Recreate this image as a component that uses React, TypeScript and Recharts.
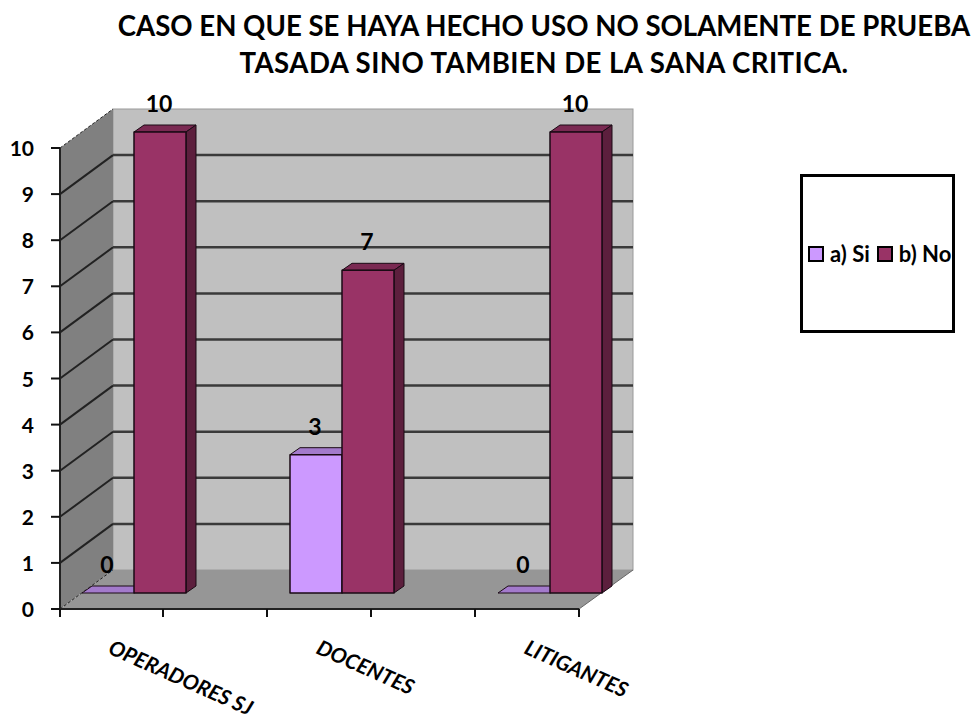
import { BarChart, Bar, XAxis, YAxis, CartesianGrid, Legend, LabelList } from 'recharts';

const categories = ['OPERADORES SJ', 'DOCENTES', 'LITIGANTES'];
const siValues = [0, 3, 0];
const noValues = [10, 7, 10];
const valueTicks = [0, 1, 2, 3, 4, 5, 6, 7, 8, 9, 10];
const titleLines = [
  'CASO EN QUE SE HAYA HECHO USO NO SOLAMENTE DE PRUEBA',
  'TASADA SINO TAMBIEN DE LA SANA CRITICA.',
];

const data = categories.map((name, i) => ({ name, si: siValues[i], no: noValues[i] }));

const FONT = 'Lato, sans-serif';
const SI_FILL = '#CC99FF';
const NO_FILL = '#993366';
const SHADES: Record<string, { top: string; side: string }> = {
  [SI_FILL]: { top: '#A37ACC', side: '#7A5C99' },
  [NO_FILL]: { top: '#7A2952', side: '#5C1F3D' },
};

// bars stand mid-depth: the front edge of the floor is 16px below them, the back wall 23px above
const FRONT_DY = 16;
const BACK_DY = -23;
const LEFT_X = 60;
const BACK_X = 113;
const RIGHT_X = 579;
const BACK_RIGHT_X = 633;
const TOP_Y = 132;
const ZERO_Y = 593;
const DEPTH_X = 10;
const DEPTH_Y = -7;
const AXIS_TICKS_X = [60, 163, 267, 371, 475, 579];

// the grid sits below plain chart children, so the walls get their own svg behind the chart
function Walls() {
  const backTop = TOP_Y + BACK_DY;
  const backBottom = ZERO_Y + BACK_DY;
  const frontTop = TOP_Y + FRONT_DY;
  const frontBottom = ZERO_Y + FRONT_DY;
  return (
    <svg width={974} height={719} style={{ position: 'absolute', left: 0, top: 0 }}>
      <rect x={BACK_X} y={backTop} width={BACK_RIGHT_X - BACK_X} height={backBottom - backTop} fill="#C0C0C0" stroke="#9a9a9a" strokeWidth={1} />
      <polygon
        points={`${LEFT_X},${frontTop} ${BACK_X},${backTop} ${BACK_X},${backBottom} ${LEFT_X},${frontBottom}`}
        fill="#808080"
      />
      <polygon
        points={`${LEFT_X},${frontBottom} ${BACK_X},${backBottom} ${BACK_RIGHT_X},${backBottom} ${RIGHT_X},${frontBottom}`}
        fill="#969696"
      />
      <line x1={LEFT_X} y1={frontTop} x2={LEFT_X} y2={frontBottom} stroke="#222" strokeWidth={2} />
      <line x1={LEFT_X} y1={frontBottom} x2={RIGHT_X} y2={frontBottom} stroke="#222" strokeWidth={2} />
      <line x1={RIGHT_X} y1={frontBottom} x2={BACK_RIGHT_X} y2={backBottom} stroke="#666" strokeWidth={1} />
      {AXIS_TICKS_X.map((x) => (
        <line key={x} x1={x} y1={frontBottom} x2={x} y2={frontBottom + 8} stroke="#111" strokeWidth={2} />
      ))}
    </svg>
  );
}

function GridLine(props: any) {
  const { y1 } = props;
  const isEdge = Math.abs(y1 - TOP_Y) < 1 || Math.abs(y1 - ZERO_Y) < 1;
  const front = y1 + FRONT_DY;
  const back = y1 + BACK_DY;
  return (
    <g key={props.key}>
      <line
        x1={LEFT_X}
        y1={front}
        x2={BACK_X}
        y2={back}
        stroke="#222"
        strokeWidth={isEdge ? 1 : 2}
        strokeDasharray={isEdge ? '3 2' : undefined}
      />
      {!isEdge && <line x1={BACK_X} y1={back} x2={BACK_RIGHT_X} y2={back} stroke="#3a3a3a" strokeWidth={2.5} />}
    </g>
  );
}

function Bar3D(props: any) {
  const { x, y, width, height, fill } = props;
  const shade = SHADES[fill];
  const r = x + width;
  const b = y + height;
  return (
    <g stroke="#1a0a14" strokeLinejoin="round">
      <polygon
        points={`${x},${y} ${x + DEPTH_X},${y + DEPTH_Y} ${r + DEPTH_X},${y + DEPTH_Y} ${r},${y}`}
        fill={shade.top}
        strokeWidth={1}
      />
      <polygon
        points={`${r},${y} ${r + DEPTH_X},${y + DEPTH_Y} ${r + DEPTH_X},${b + DEPTH_Y} ${r},${b}`}
        fill={shade.side}
        strokeWidth={1}
      />
      <rect x={x} y={y} width={width} height={height} fill={fill} strokeWidth={1.5} />
    </g>
  );
}

function ValueLabel(props: any) {
  const { x, y, width, value } = props;
  return (
    <text x={x + width / 2 - 1} y={y - 20} textAnchor="middle" fontFamily={FONT} fontWeight={700} fontSize={23} fill="#000">
      {value}
    </text>
  );
}

function ValueTick(props: any) {
  const { y, payload } = props;
  const front = y + FRONT_DY;
  return (
    <g>
      <line x1={51} y1={front} x2={LEFT_X} y2={front} stroke="#111" strokeWidth={2} />
      <text x={34} y={front + 8} textAnchor="end" fontFamily={FONT} fontWeight={700} fontSize={21} fill="#000">
        {payload.value}
      </text>
    </g>
  );
}

function CategoryTick(props: any) {
  const { x, payload } = props;
  const tx = x - 27;
  const ty = 653;
  return (
    <text
      x={tx}
      y={ty}
      transform={`rotate(24 ${tx} ${ty})`}
      fontFamily={FONT}
      fontWeight={700}
      fontStyle="italic"
      fontSize={21}
      fill="#000"
    >
      {payload.value}
    </text>
  );
}

function LegendBox(props: any) {
  const items = props.payload ?? [];
  return (
    <div
      style={{
        width: 155,
        height: 159,
        boxSizing: 'border-box',
        border: '3px solid #000',
        background: '#fff',
        display: 'flex',
        alignItems: 'center',
        paddingLeft: 5,
        fontFamily: FONT,
        fontWeight: 700,
        fontSize: 22,
        color: '#000',
        whiteSpace: 'nowrap',
      }}
    >
      {items.map((it: any) => (
        <span key={it.value} style={{ display: 'inline-flex', alignItems: 'center', marginRight: 7 }}>
          <span
            style={{
              display: 'inline-block',
              width: 12,
              height: 12,
              border: '2px solid #000',
              background: it.color,
              marginRight: 6,
            }}
          />
          {it.value}
        </span>
      ))}
    </div>
  );
}

export default function App() {
  return (
    <div style={{ position: 'absolute', left: 0, top: 0, width: 974, height: 719, background: '#fff' }}>
      <Walls />
      <BarChart
        width={974}
        height={719}
        data={data}
        margin={{ top: TOP_Y, right: 320, bottom: 125, left: 29 }}
        barSize={52}
        barGap={0}
      >
        <CartesianGrid horizontal={GridLine} vertical={false} />
        <XAxis dataKey="name" height={1} axisLine={false} tickLine={false} interval={0} tick={CategoryTick} />
        <YAxis
          type="number"
          domain={[0, 10]}
          ticks={valueTicks}
          width={1}
          axisLine={false}
          tickLine={false}
          interval={0}
          tick={ValueTick}
        />
        <Bar dataKey="si" name="a) Si" fill={SI_FILL} shape={Bar3D} isAnimationActive={false}>
          <LabelList dataKey="si" content={ValueLabel} />
        </Bar>
        <Bar dataKey="no" name="b) No" fill={NO_FILL} shape={Bar3D} isAnimationActive={false}>
          <LabelList dataKey="no" content={ValueLabel} />
        </Bar>
        <Legend
          layout="horizontal"
          verticalAlign="middle"
          content={LegendBox}
          wrapperStyle={{ left: 800, top: 174, width: 155, height: 159 }}
        />
        {titleLines.map((line, i) => (
          <text
            key={line}
            x={544}
            y={36 + i * 37}
            textAnchor="middle"
            fontFamily={FONT}
            fontWeight={700}
            fontSize={27.6}
            letterSpacing={i === 1 ? 0.45 : 0}
            fill="#000"
          >
            {line}
          </text>
        ))}
      </BarChart>
    </div>
  );
}
